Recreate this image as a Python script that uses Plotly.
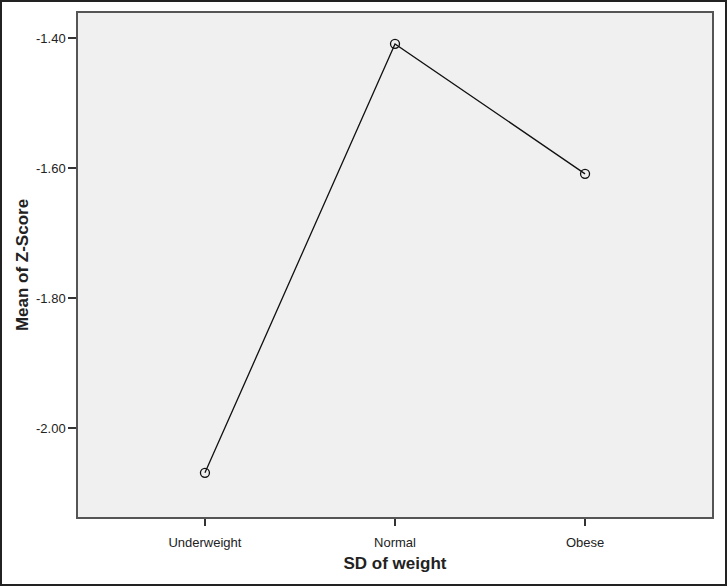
import plotly.graph_objects as go

categories = ["Underweight", "Normal", "Obese"]
mean_z = [-2.069, -1.409, -1.609]
y_ticks = [-2.00, -1.80, -1.60, -1.40]
y_tick_text = ["%.2f" % v for v in y_ticks]  # plain hyphen like the original

W, H = 727, 586
L, R, T, B = 78, 15, 13, 69
pw, ph = W - L - R, H - T - B

fig = go.Figure()

fig.add_trace(
    go.Scatter(
        x=[0, 1, 2],
        y=mean_z,
        mode="lines+markers",
        line=dict(color="#111111", width=1.3),
        marker=dict(symbol="circle-open", size=9, color="#111111",
                    line=dict(width=1.3)),
        showlegend=False,
    )
)

# outer frame around the whole image
fig.add_shape(
    type="rect", xref="paper", yref="paper",
    x0=(1 - L) / pw, x1=(W - 1 - L) / pw,
    y0=(T + ph - (H - 1)) / ph, y1=(T + ph - 1) / ph,
    line=dict(color="#222222", width=2), fillcolor="rgba(0,0,0,0)",
    layer="below",
)

fig.update_layout(
    width=W,
    height=H,
    margin=dict(l=L, r=R, t=T, b=B),
    paper_bgcolor="white",
    plot_bgcolor="#f0f0f0",
    font=dict(family="Liberation Sans, Arial, sans-serif", color="#222222"),
)

fig.update_xaxes(
    range=[-0.668, 2.668],
    tickvals=[0, 1, 2],
    ticktext=categories,
    ticks="outside",
    ticklen=7,
    tickwidth=1.5,
    tickcolor="#333333",
    tickfont=dict(size=13),
    ticklabelstandoff=6,
    showgrid=False,
    zeroline=False,
    showline=True,
    linecolor="#555555",
    linewidth=1.5,
    mirror=True,
    title=dict(text="<b>SD of weight</b>", font=dict(size=17), standoff=8),
)

fig.update_yaxes(
    range=[-2.137, -1.3615],
    tickvals=y_ticks,
    ticktext=y_tick_text,
    ticks="outside",
    ticklen=8,
    tickwidth=2,
    tickcolor="#333333",
    tickfont=dict(size=13),
    showgrid=False,
    zeroline=False,
    showline=True,
    linecolor="#555555",
    linewidth=1.5,
    mirror=True,
    title=dict(text="<b>Mean of Z-Score</b>", font=dict(size=17), standoff=3),
)

fig.write_html(
    "out.html",
    config={"displayModeBar": False},
    post_script="document.body.style.margin='0';",
)
